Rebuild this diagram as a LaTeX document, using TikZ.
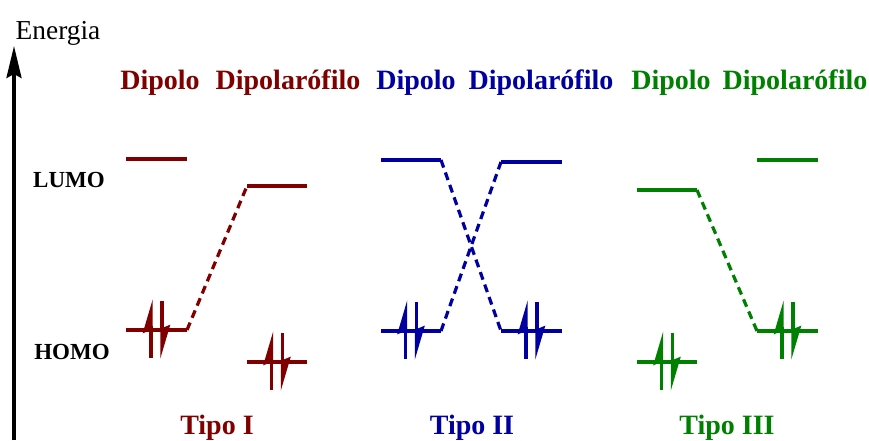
\documentclass[tikz,border=0pt]{standalone}
\usepackage{fontspec}
\setmainfont{Liberation Serif}
\usetikzlibrary{arrows.meta,calc}

\definecolor{tipoI}{RGB}{128,0,0}
\definecolor{tipoII}{RGB}{0,0,160}
\definecolor{tipoIII}{RGB}{0,128,0}

\begin{document}
\begin{tikzpicture}[x=0.5pt,y=-0.5pt,
    level/.style={line width=1.6pt},
    trans/.style={line width=1.6pt, dash pattern=on 4pt off 2.6pt},
    spin/.style={line width=1.7pt, -{Stealth[harpoon,length=14pt,width=8pt,inset=1.5pt]}},
    mol/.style={font=\fontsize{14}{16}\selectfont\bfseries, anchor=base},
    orb/.style={font=\fontsize{11.5}{13}\selectfont\bfseries, anchor=base},
    axis/.style={line width=1.6pt, -{Stealth[length=16pt,width=7.5pt,inset=2pt]}}
]
\useasboundingbox (0,0) rectangle (869,440);

% eixo de energia
\coordinate (axbot) at (14,440);
\coordinate (axtop) at (14,46);
\draw[axis] (axbot) -- (axtop);
\node[font=\fontsize{13.7}{16}\selectfont, anchor=base] (energia) at (58,39) {Energia};
\node[orb] (lumo) at (69,187) {LUMO};
\node[orb] (homo) at (72,359) {HOMO};

% Tipo I
\coordinate (dIl1) at (126,159); \coordinate (dIl2) at (187,159);
\coordinate (dIh1) at (126,330); \coordinate (dIh2) at (187,330);
\coordinate (pIl1) at (247,186); \coordinate (pIl2) at (307,186);
\coordinate (pIh1) at (247,362); \coordinate (pIh2) at (307,362);
\begin{scope}[tipoI]
  \node[mol] (dipI) at (160,89) {Dipolo};
  \node[mol] (dpfI) at (288,89) {Dipolarófilo};
  \node[mol] (tipI) at (217,434) {Tipo I};
  \draw[level] (dIl1) -- (dIl2);
  \draw[level] (dIh1) -- (dIh2);
  \draw[level] (pIl1) -- (pIl2);
  \draw[level] (pIh1) -- (pIh2);
  \draw[trans] (dIh2) -- (pIl1);
\end{scope}

% Tipo II
\coordinate (dIIl1) at (381,160); \coordinate (dIIl2) at (441,160);
\coordinate (dIIh1) at (381,331); \coordinate (dIIh2) at (441,331);
\coordinate (pIIl1) at (501,162); \coordinate (pIIl2) at (562,162);
\coordinate (pIIh1) at (501,331); \coordinate (pIIh2) at (562,331);
\begin{scope}[tipoII]
  \node[mol] (dipII) at (416,89) {Dipolo};
  \node[mol] (dpfII) at (541,89) {Dipolarófilo};
  \node[mol] (tipII) at (472,434) {Tipo II};
  \draw[level] (dIIl1) -- (dIIl2);
  \draw[level] (dIIh1) -- (dIIh2);
  \draw[level] (pIIl1) -- (pIIl2);
  \draw[level] (pIIh1) -- (pIIh2);
  \draw[trans] (dIIl2) -- (pIIh1);
  \draw[trans] (dIIh2) -- (pIIl1);
\end{scope}

% Tipo III
\coordinate (dIIIl1) at (637,190); \coordinate (dIIIl2) at (697,190);
\coordinate (dIIIh1) at (637,362); \coordinate (dIIIh2) at (697,362);
\coordinate (pIIIl1) at (757,160); \coordinate (pIIIl2) at (818,160);
\coordinate (pIIIh1) at (757,331); \coordinate (pIIIh2) at (818,331);
\begin{scope}[tipoIII]
  \node[mol] (dipIII) at (671,89) {Dipolo};
  \node[mol] (dpfIII) at (795,89) {Dipolarófilo};
  \node[mol] (tipIII) at (727,434) {Tipo III};
  \draw[level] (dIIIl1) -- (dIIIl2);
  \draw[level] (dIIIh1) -- (dIIIh2);
  \draw[level] (pIIIl1) -- (pIIIl2);
  \draw[level] (pIIIh1) -- (pIIIh2);
  \draw[trans] (dIIIl2) -- (pIIIh1);
\end{scope}

% pares de eletrons nos HOMO
\foreach \a/\b/\col in {dIh1/dIh2/tipoI, pIh1/pIh2/tipoI,
                        dIIh1/dIIh2/tipoII, pIIh1/pIIh2/tipoII,
                        dIIIh1/dIIIh2/tipoIII, pIIIh1/pIIIh2/tipoIII}{
  \coordinate (c) at ($(\a)!0.5!(\b)$);
  \draw[spin,\col] ($(c)+(-5.5,28)$) -- ($(c)+(-5.5,-31)$);
  \draw[spin,\col] ($(c)+(5.5,-29)$) -- ($(c)+(5.5,29)$);
}

\end{tikzpicture}
\end{document}
